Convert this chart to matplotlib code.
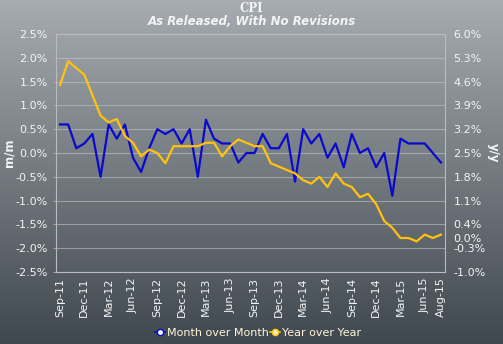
import numpy as np
import matplotlib
matplotlib.use("Agg")
import matplotlib.pyplot as plt
from matplotlib.lines import Line2D
from matplotlib.colors import LinearSegmentedColormap

# ---- data ----
months = ["Sep-11", "Oct-11", "Nov-11", "Dec-11", "Jan-12", "Feb-12", "Mar-12", "Apr-12",
          "May-12", "Jun-12", "Jul-12", "Aug-12", "Sep-12", "Oct-12", "Nov-12", "Dec-12",
          "Jan-13", "Feb-13", "Mar-13", "Apr-13", "May-13", "Jun-13", "Jul-13", "Aug-13",
          "Sep-13", "Oct-13", "Nov-13", "Dec-13", "Jan-14", "Feb-14", "Mar-14", "Apr-14",
          "May-14", "Jun-14", "Jul-14", "Aug-14", "Sep-14", "Oct-14", "Nov-14", "Dec-14",
          "Jan-15", "Feb-15", "Mar-15", "Apr-15", "May-15", "Jun-15", "Jul-15", "Aug-15"]
mom = [0.6, 0.6, 0.1, 0.2, 0.4, -0.5, 0.6, 0.3, 0.6, -0.1, -0.4, 0.1,
       0.5, 0.4, 0.5, 0.2, 0.5, -0.5, 0.7, 0.3, 0.2, 0.2, -0.2, 0.0,
       0.0, 0.4, 0.1, 0.1, 0.4, -0.6, 0.5, 0.2, 0.4, -0.1, 0.2, -0.3,
       0.4, 0.0, 0.1, -0.3, 0.0, -0.9, 0.3, 0.2, 0.2, 0.2, 0.0, -0.2]
yoy = [4.5, 5.2, 5.0, 4.8, 4.2, 3.6, 3.4, 3.5, 3.0, 2.8, 2.4, 2.6,
       2.5, 2.2, 2.7, 2.7, 2.7, 2.7, 2.8, 2.8, 2.4, 2.7, 2.9, 2.8,
       2.7, 2.7, 2.2, 2.1, 2.0, 1.9, 1.7, 1.6, 1.8, 1.5, 1.9, 1.6,
       1.5, 1.2, 1.3, 1.0, 0.5, 0.3, 0.0, 0.0, -0.1, 0.1, 0.0, 0.1]
left_ticks = [2.5, 2.0, 1.5, 1.0, 0.5, 0.0, -0.5, -1.0, -1.5, -2.0, -2.5]
right_ticks = [6.0, 5.3, 4.6, 3.9, 3.2, 2.5, 1.8, 1.1, 0.4, 0.0, -0.3, -1.0]
xtick_labels = ["Sep-11", "Dec-11", "Mar-12", "Jun-12", "Sep-12", "Dec-12", "Mar-13",
                "Jun-13", "Sep-13", "Dec-13", "Mar-14", "Jun-14", "Sep-14", "Dec-14",
                "Mar-15", "Jun-15", "Aug-15"]

BLUE = "#0a0acc"
YELLOW = "#ffc20e"
TXT = "#f4f4f4"

fig = plt.figure(figsize=(5.03, 3.44), dpi=100)

# background gradient
bg = fig.add_axes([0, 0, 1, 1], zorder=-10)
cmap = LinearSegmentedColormap.from_list("bg", ["#a6acb1", "#40484f"])
grad = np.linspace(0, 1, 256).reshape(-1, 1)
bg.imshow(grad, aspect="auto", cmap=cmap, extent=[0, 1, 0, 1], origin="upper")
bg.set_axis_off()

ax = fig.add_axes([56/503, 1-272/344, (445-56)/503, (272-34)/344])
ax.set_facecolor("none")
x = np.arange(len(months))
ax.plot(x, mom, color=BLUE, lw=1.6, zorder=3)
ax.set_xlim(-0.5, len(months) - 0.5)
ax.set_ylim(-2.5, 2.5)
ax.set_yticks(left_ticks)
ax.set_yticklabels([f"{v:.1f}%" for v in left_ticks], color=TXT, fontsize=8)
for v in left_ticks:
    ax.axhline(v, color="#c0c4c8", lw=0.8, alpha=0.6, zorder=1)
xt = [months.index(m) for m in xtick_labels]
ax.set_xticks(xt)
ax.set_xticklabels(xtick_labels, rotation=90, color=TXT, fontsize=8)
ax.tick_params(axis="x", length=0, pad=4)
ax.tick_params(axis="y", length=2, color="#d09090", pad=4)
for s in ax.spines.values():
    s.set_color("#b8bcc0")
    s.set_linewidth(0.8)

ax2 = ax.twinx()
ax2.plot(x, yoy, color=YELLOW, lw=1.6, zorder=3)
ax2.set_ylim(-1.0, 6.0)
ax2.set_yticks(right_ticks)
ax2.set_yticklabels([f"{v:.1f}%" for v in right_ticks], color=TXT, fontsize=8)
ax2.tick_params(axis="y", length=0, pad=6)
for s in ax2.spines.values():
    s.set_visible(False)

fig.text(9/503, 1-153/344, "m/m", ha="center", va="center", rotation=90,
         color=TXT, fontsize=8.5, fontweight="bold")
fig.text(493/503, 1-153/344, "y/y", ha="center", va="center", rotation=270,
         color=TXT, fontsize=8.5, fontweight="bold")

fig.text(0.5, 1-8.5/344, "CPI", ha="center", va="center", color=TXT,
         fontsize=8.5, fontweight="bold", family="DejaVu Serif")
fig.text(0.5, 1-21.5/344, "As Released, With No Revisions", ha="center", va="center",
         color=TXT, fontsize=8.5, fontweight="bold", style="italic")

handles = [Line2D([], [], color=BLUE, marker="o", markersize=4.5, markerfacecolor="white",
                  markeredgecolor=BLUE, lw=1.2),
           Line2D([], [], color=YELLOW, marker="o", markersize=4.5, markerfacecolor="#fff3c0",
                  markeredgecolor=YELLOW, lw=1.2)]
leg = fig.legend(handles, ["Month over Month", "Year over Year"], loc="center",
                 bbox_to_anchor=(0.513, 1-333/344), ncol=2, frameon=False, fontsize=8,
                 handlelength=0.9, handletextpad=0.2, columnspacing=0.1, borderpad=0)
for t in leg.get_texts():
    t.set_color("#fff6d8")

fig.savefig("out.png", dpi=100)
